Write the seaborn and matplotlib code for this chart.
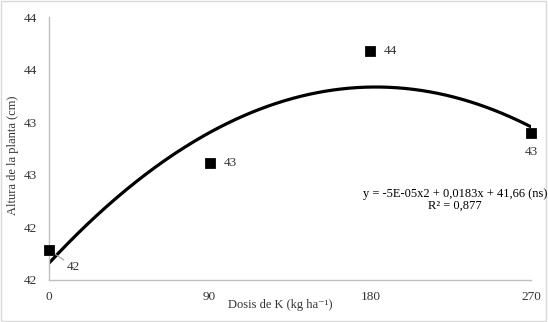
import numpy as np
import pandas as pd
import matplotlib
matplotlib.use("Agg")
import matplotlib.pyplot as plt
import seaborn as sns
from matplotlib.patches import Rectangle

# Potassium doses and measured plant heights
doses = [0, 90, 180, 270]
heights = [41.785, 42.61, 43.68, 42.90]
point_labels = ["42", "43", "44", "43"]

# Quadratic trend: y = a*x^2 + b*x + c
trend_coefs = [-5e-05, 0.0183, 41.66]
equation_text = "y = -5E-05x2 + 0,0183x + 41,66 (ns)\nR² = 0,877"

y_ticks = [41.5, 42.0, 42.5, 43.0, 43.5, 44.0]
y_tick_labels = ["42", "42", "43", "43", "44", "44"]
x_ticks = [0, 90, 180, 270]

sns.set_theme(style="white")
plt.rcParams["font.family"] = ["Liberation Serif", "DejaVu Serif"]

TXT = "#333333"
FS = 9

df = pd.DataFrame({"dose": doses, "height": heights})
xs = np.linspace(0, 270, 300)
trend = pd.DataFrame({"dose": xs, "height": np.polyval(trend_coefs, xs)})

fig = plt.figure(figsize=(5.48, 3.22), dpi=100)
ax = fig.add_axes([49 / 548, 1 - 280 / 322, (531 - 49) / 548, (280 - 17) / 322])

sns.lineplot(data=trend, x="dose", y="height", ax=ax, color="black", linewidth=2.3)
sns.scatterplot(data=df, x="dose", y="height", ax=ax, marker="s", s=50,
                color="black", edgecolor="black", clip_on=False, zorder=5)

# Data labels
lab_kw = dict(textcoords="offset points", fontsize=FS + 0.5, color=TXT)
ax.annotate(point_labels[0], (doses[0], heights[0]), xytext=(13, -12),
            va="center", ha="left",
            arrowprops=dict(arrowstyle="-", color="#a0a0a0", lw=0.8,
                            shrinkA=0, shrinkB=4), **lab_kw)
ax.annotate(point_labels[1], (doses[1], heights[1]), xytext=(10, 0),
            va="center", ha="left", **lab_kw)
ax.annotate(point_labels[2], (doses[2], heights[2]), xytext=(10, 0),
            va="center", ha="left", **lab_kw)
ax.annotate(point_labels[3], (doses[3], heights[3]), xytext=(0, -14),
            va="center", ha="center",
            arrowprops=dict(arrowstyle="-", color="#a0a0a0", lw=0.8,
                            shrinkA=6, shrinkB=4), **lab_kw)

fig.text(455 / 548, 1 - 200 / 322, equation_text,
         ha="center", va="center", fontsize=FS, color="black", linespacing=1.05)

ax.set_xlim(0, 270)
ax.set_ylim(41.5, 44.0)
ax.set_xticks(x_ticks)
ax.set_xticklabels([str(t) for t in x_ticks])
ax.set_yticks(y_ticks)
ax.set_yticklabels(y_tick_labels)
ax.tick_params(axis="both", length=0, labelsize=FS + 0.5, labelcolor=TXT)
ax.tick_params(axis="x", pad=8)
ax.tick_params(axis="y", pad=9)
ax.set_xlabel("")
ax.set_ylabel("")

fig.text(280 / 548, 1 - 305 / 322, "Dosis de K (kg ha⁻¹)", ha="center", va="center",
         fontsize=FS, color=TXT)
fig.text(13 / 548, 1 - 155 / 322, "Altura de la planta (cm)", ha="center", va="center",
         rotation=90, fontsize=FS, color=TXT)

for side in ["top", "right"]:
    ax.spines[side].set_visible(False)
for side in ["left", "bottom"]:
    ax.spines[side].set_color("#bfbfbf")
    ax.spines[side].set_linewidth(1.0)

# Chart area border
fig.patches.append(Rectangle((0.002, 0.004), 0.994, 0.992, transform=fig.transFigure,
                             fill=False, edgecolor="#d9d9d9", linewidth=1.0))

fig.savefig("out.png", dpi=100, facecolor="white")
